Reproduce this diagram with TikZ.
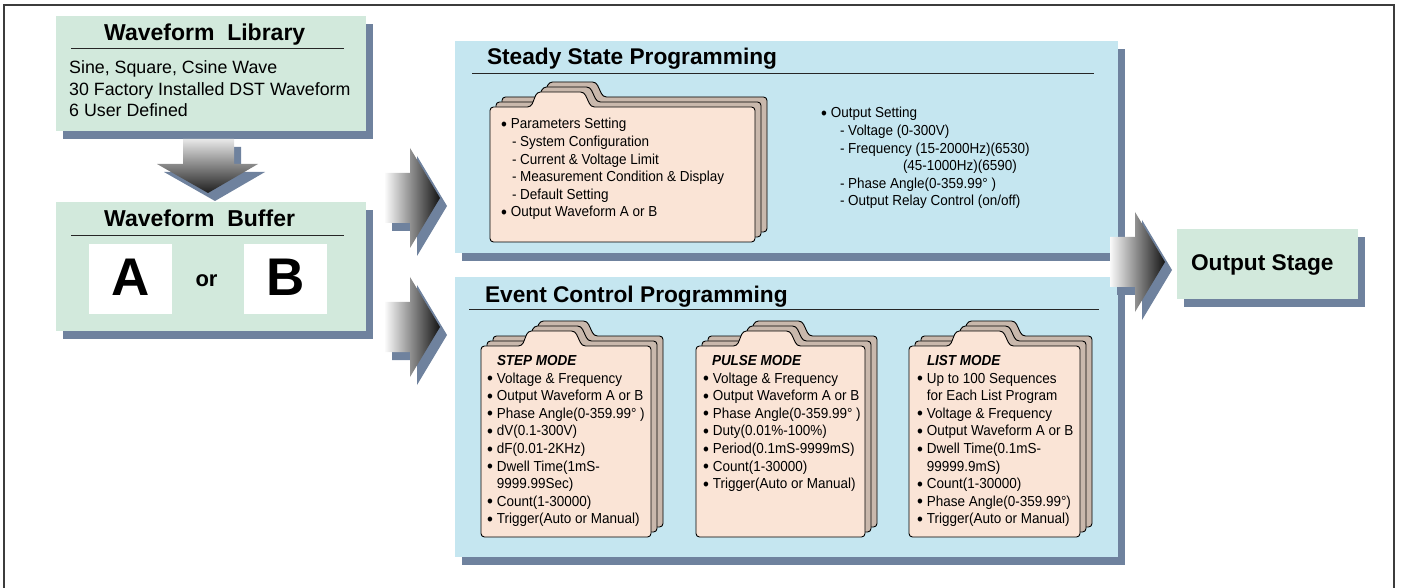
\documentclass[tikz,border=0pt]{standalone}
\usepackage{fontspec}
\setmainfont{Liberation Sans}
\newfontfamily\condf{Liberation Sans}[FakeStretch=0.93]
\definecolor{mint}{RGB}{210,233,220}
\definecolor{skyb}{RGB}{197,230,240}
\definecolor{shadowc}{RGB}{111,130,158}
\definecolor{peach}{RGB}{250,228,214}
\definecolor{taupe}{RGB}{201,184,172}
\definecolor{framec}{RGB}{60,60,60}
\newcommand\bul{\makebox[8.9pt][l]{\kern-0.8pt\raisebox{-1.6pt}{\fontsize{18}{18}\selectfont•}}}
\newcommand\myFolder[4]{%
  \foreach \k/\c in {2/taupe,1/taupe,0/peach}{%
    \filldraw[fill=\c, draw=black, line width=0.9pt, rounded corners=3.5pt, shift={(6*\k,-5*\k)}]
      (#1+20,#2+#4) -- (#1,#2+#4) -- (#1,#2) -- (#1+41,#2) -- (#1+47,#2-15) -- (#1+94,#2-15)
      -- (#1+101,#2) -- (#1+#3,#2) -- (#1+#3,#2+#4) -- cycle;
  }%
}
\newcommand\myRarrow[2]{%
  \fill[shadowc] (#1+7,#2-17) -- (#1+32,#2-17) -- (#1+32,#2-42) -- (#1+62,#2+8) -- (#1+32,#2+58) -- (#1+32,#2+33) -- (#1+7,#2+33) -- cycle;
  \shade[left color=gray!4, right color=black!92] (#1,#2-25) -- (#1+25,#2-25) -- (#1+25,#2-50) -- (#1+55,#2) -- (#1+25,#2+50) -- (#1+25,#2+25) -- (#1,#2+25) -- cycle;
}
\newcommand\myList[5]{%
  \foreach \t [count=\i from 0] in {#5} \node[tx] (#1\i) at (#2, #3+#4*\i) {\t};%
}
\begin{document}
\begin{tikzpicture}[x=1pt,y=-1pt,
  box/.style={inner sep=0pt, outer sep=0pt, draw=none, anchor=north west},
  tx/.style={anchor=base west, inner sep=0pt, outer sep=0pt, font=\condf\fontsize{14.5}{16}\selectfont},
  hd/.style={anchor=base west, inner sep=0pt, outer sep=0pt, font=\condf\fontsize{14.5}{16}\selectfont\bfseries\itshape},
  big/.style={anchor=base west, inner sep=0pt, outer sep=0pt, font=\fontsize{22.7}{26}\selectfont\bfseries},
  rule/.style={line width=0.8pt, draw=black!85}]
\useasboundingbox (0,0) rectangle (1401,588);
\draw[framec, line width=1.6pt] (4,590) -- (4,5) -- (1394,5) -- (1394,590);

% ---------- boxes ----------
\node[box, minimum width=310pt, minimum height=115pt] (lib) at (56,16) {};
\node[box, minimum width=310pt, minimum height=129pt] (buf) at (56,202) {};
\node[box, minimum width=663pt, minimum height=212pt] (steady) at (455,41) {};
\node[box, minimum width=663pt, minimum height=280pt] (event) at (455,277) {};
\node[box, minimum width=181pt, minimum height=70pt] (outst) at (1177,229) {};
\foreach \b in {lib,buf,steady,event,outst}{
  \fill[shadowc] ([shift={(7,8)}]\b.north west) rectangle ([shift={(7,8)}]\b.south east);
}
\fill[mint] (lib.north west) rectangle (lib.south east);
\fill[mint] (buf.north west) rectangle (buf.south east);
\fill[skyb] (steady.north west) rectangle (steady.south east);
\fill[skyb] (event.north west) rectangle (event.south east);
\fill[mint] (outst.north west) rectangle (outst.south east);

% ---------- waveform library ----------
\node[anchor=base west, inner sep=0pt, font=\fontsize{23}{27}\selectfont\bfseries] (libt) at (104,41) {Waveform\ \ Library};
\coordinate (libl1) at (71,48);
\coordinate (libl2) at (344,48);
\draw[rule] (libl1) -- (libl2);
\node[anchor=base west, inner sep=0pt, font=\fontsize{17.8}{21}\selectfont] (lib1) at (69,74) {Sine, Square, Csine Wave};
\node[anchor=base west, inner sep=0pt, font=\fontsize{17.8}{21}\selectfont] (lib2) at (69,96) {30 Factory Installed DST Waveform};
\node[anchor=base west, inner sep=0pt, font=\fontsize{17.8}{21}\selectfont] (lib3) at (69,117) {6 User Defined};

% ---------- down arrow ----------
\fill[shadowc] (190,147) -- (241,147) -- (241,172) -- (265,172) -- (215,201) -- (164,172) -- (190,172) -- cycle;
\shade[top color=gray!18, bottom color=black!88] (183,139) -- (234,139) -- (234,164) -- (258,164) -- (208,193) -- (157,164) -- (183,164) -- cycle;

% ---------- waveform buffer ----------
\node[anchor=base west, inner sep=0pt, font=\fontsize{23}{27}\selectfont\bfseries] (buft) at (104,227) {Waveform\ \ Buffer};
\coordinate (bufl1) at (71,235);
\coordinate (bufl2) at (344,235);
\draw[rule] (bufl1) -- (bufl2);
\node[box, fill=white, minimum width=83pt, minimum height=70pt] (boxA) at (89,244) {};
\node[box, fill=white, minimum width=83pt, minimum height=70pt] (boxB) at (244,244) {};
\node[anchor=base, inner sep=0pt, font=\fontsize{53}{60}\selectfont\bfseries] (letA) at (130.5,296) {A};
\node[anchor=base, inner sep=0pt, font=\fontsize{53}{60}\selectfont\bfseries] (letB) at (285.5,296) {B};
\node[anchor=base, inner sep=0pt, font=\fontsize{22}{26}\selectfont\bfseries] (or) at (206.5,287) {or};

% ---------- arrows to the right ----------
\myRarrow{385}{198}
\myRarrow{385}{327}

% ---------- steady state ----------
\node[big] (stt) at (487,65) {Steady State Programming};
\coordinate (stl1) at (472,73);
\coordinate (stl2) at (1094,73);
\draw[rule] (stl1) -- (stl2);
\myFolder{490}{107}{265}{135}
\myList{stA}{502}{129}{17.6}{{\bul Parameters Setting},{\kern10pt- System Configuration},{\kern10pt- Current \& Voltage Limit},{\kern10pt- Measurement Condition \& Display},{\kern10pt- Default Setting},{\bul Output Waveform A or B}}
\myList{stB}{822}{118}{17.6}{{\bul Output Setting},{\kern18pt- Voltage (0-300V)},{\kern18pt- Frequency (15-2000Hz)(6530)},{\kern81pt(45-1000Hz)(6590)},{\kern18pt- Phase Angle(0-359.99° )},{\kern18pt- Output Relay Control (on/off)}}

% ---------- event control ----------
\node[big] (evt) at (485,302) {Event Control Programming};
\coordinate (evl1) at (469,309);
\coordinate (evl2) at (1099,309);
\draw[rule] (evl1) -- (evl2);

\myFolder{481}{346}{170}{191}
\node[hd] (steph) at (497,365) {STEP MODE};
\myList{step}{488}{383}{17.6}{{\bul Voltage \& Frequency},{\bul Output Waveform A or B},{\bul Phase Angle(0-359.99° )},{\bul dV(0.1-300V)},{\bul dF(0.01-2KHz)},{\bul Dwell Time(1mS-},{\hphantom{\bul}9999.99Sec)},{\bul Count(1-30000)},{\bul Trigger(Auto or Manual)}}

\myFolder{696}{346}{169}{191}
\node[hd] (pulseh) at (712,365) {PULSE MODE};
\myList{pulse}{704}{383}{17.6}{{\bul Voltage \& Frequency},{\bul Output Waveform A or B},{\bul Phase Angle(0-359.99° )},{\bul Duty(0.01\%-100\%)},{\bul Period(0.1mS-9999mS)},{\bul Count(1-30000)},{\bul Trigger(Auto or Manual)}}

\myFolder{909}{346}{171}{191}
\node[hd] (listh) at (927,365) {LIST MODE};
\myList{list}{918}{383}{17.6}{{\bul Up to 100 Sequences},{\hphantom{\bul}for Each List Program},{\bul Voltage \& Frequency},{\bul Output Waveform A or B},{\bul Dwell Time(0.1mS-},{\hphantom{\bul}99999.9mS)},{\bul Count(1-30000)},{\bul Phase Angle(0-359.99°)},{\bul Trigger(Auto or Manual)}}

% ---------- output stage ----------
\myRarrow{1110}{262}
\node[big] (outt) at (1191,271) {Output Stage};
\end{tikzpicture}
\end{document}
